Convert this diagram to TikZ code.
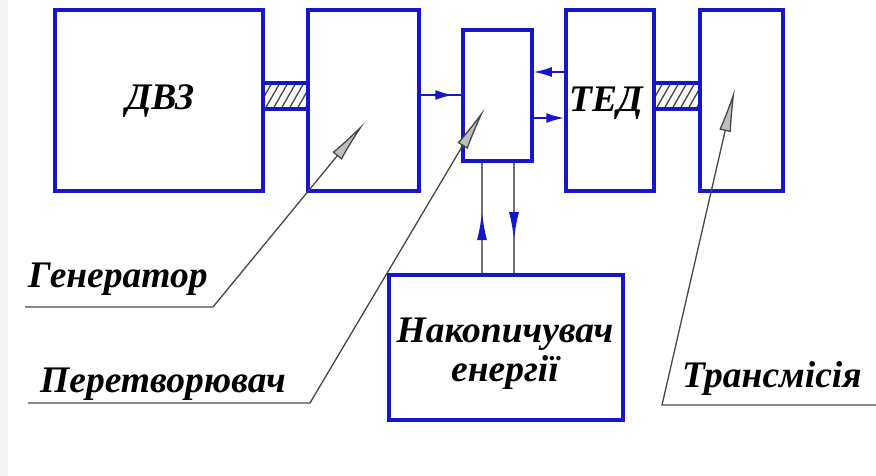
\documentclass[tikz,border=0pt]{standalone}
\usepackage{fontspec}
\setmainfont{Liberation Serif}
\usetikzlibrary{arrows.meta,calc}
\definecolor{boxblue}{RGB}{22,22,205}
\definecolor{leadgray}{RGB}{70,70,70}
\begin{document}
\begin{tikzpicture}[x=1pt,y=-1pt,
  box/.style={draw=boxblue, line width=3.5pt, rectangle, inner sep=0pt},
  txt/.style={font=\fontsize{37.5}{30}\selectfont\bfseries\itshape},
  lbl/.style={txt, inner sep=0pt, anchor=base west},
  flow/.style={draw=boxblue, line width=1.8pt},
  flowhead/.style={draw=boxblue, line width=1.8pt, -{Latex[length=18pt,width=10pt]}},
  vline/.style={draw=black!55, line width=2pt},
  vhead/.style={draw=black!55, line width=2pt, -{Latex[length=28pt,width=10pt,color=boxblue]}},
  leader/.style={draw=leadgray, line width=1.3pt},
  leadhead/.style={leader, -{Latex[length=44pt, width=12pt, fill=black!25]}},
  shaft/.style={draw=boxblue, line width=3.5pt, rectangle, inner sep=0pt,
    path picture={\foreach \i in {-30,-22,...,50}
      \draw[black!75, line width=1.3pt]
        ([xshift=\i pt]path picture bounding box.south west) -- ++(16pt,28pt);}},
]
\useasboundingbox (0,0) rectangle (876,476);
\fill[black!4] (0,0) rectangle (8,476);

% blocks
\node[box, minimum width=208pt, minimum height=181pt] (dvz) at (159,100.5) {};
\node[box, minimum width=111pt, minimum height=181pt] (gen) at (363.5,100.5) {};
\node[box, minimum width=69pt, minimum height=131pt] (conv) at (497.5,95.5) {};
\node[box, minimum width=88pt, minimum height=181pt] (ted) at (610,100.5) {};
\node[box, minimum width=83pt, minimum height=181pt] (trans) at (741.5,100.5) {};
\node[box, minimum width=234pt, minimum height=145pt] (acc) at (506,347.5) {};

% block texts
\node[txt, anchor=base, inner sep=0pt] (tdvz) at (160,110) {ДВЗ};
\node[txt, anchor=base, inner sep=0pt] (tted) at (606,112) {ТЕД};
\node[txt, anchor=base, inner sep=0pt] (tacc1) at (505,342) {Накопичувач};
\node[txt, anchor=base, inner sep=0pt] (tacc2) at (505,381) {енергії};

% shafts
\node[shaft, minimum width=45pt, minimum height=26pt] (sh1) at (285.5,96) {};
\node[shaft, minimum width=46pt, minimum height=26pt] (sh2) at (677,96) {};

% power flow
\coordinate (ya) at (0,95);
\coordinate (yb) at (0,72);
\coordinate (yc) at (0,118);
\draw[flow] (gen.east |- ya) -- (conv.west |- ya);
\draw[flowhead, shorten >=8pt] (gen.east |- ya) -- (conv.west |- ya);
\draw[flowhead] (ted.west |- yb) -- (conv.east |- yb);
\draw[flowhead] (conv.east |- yc) -- (ted.west |- yc);

% links to the energy store
\coordinate (xa) at (482,0);
\coordinate (xb) at (514,0);
\coordinate (ha) at (482,212);
\coordinate (hb) at (514,240);
\draw[vline] (conv.south -| xa) -- (acc.north -| xa);
\draw[vline] (conv.south -| xb) -- (acc.north -| xb);
\draw[vhead] (acc.north -| xa) -- (ha);
\draw[vhead] (conv.south -| xb) -- (hb);

% labels and leaders
\node[lbl] (lgen) at (28,287) {Генератор};
\node[lbl] (lconv) at (40,392) {Перетворювач};
\node[lbl] (ltrans) at (682,387) {Трансмісія};
\coordinate (g1) at (25,307);
\coordinate (g2) at (213,307);
\coordinate (gt) at (365,122);
\coordinate (c1) at (28,403);
\coordinate (c2) at (310,403);
\coordinate (ct) at (485,108);
\coordinate (t1) at (876,405);
\coordinate (t2) at (662,405);
\coordinate (tt) at (735,88);
\draw[leadhead] (g1) -- (g2) -- (gt);
\draw[leadhead] (c1) -- (c2) -- (ct);
\draw[leadhead] (t1) -- (t2) -- (tt);
\end{tikzpicture}
\end{document}
